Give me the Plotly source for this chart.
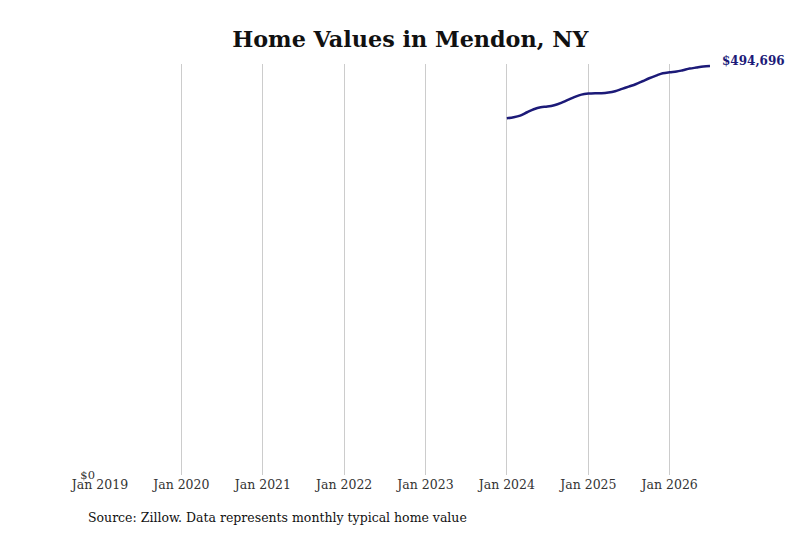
import plotly.graph_objects as go

months = [
    "2024-01-01", "2024-02-01", "2024-03-01", "2024-04-01", "2024-05-01", "2024-06-01",
    "2024-07-01", "2024-08-01", "2024-09-01", "2024-10-01", "2024-11-01", "2024-12-01",
    "2025-01-01", "2025-02-01", "2025-03-01", "2025-04-01", "2025-05-01", "2025-06-01",
    "2025-07-01", "2025-08-01", "2025-09-01", "2025-10-01", "2025-11-01", "2025-12-01",
    "2026-01-01", "2026-02-01", "2026-03-01", "2026-04-01", "2026-05-01", "2026-06-01",
    "2026-07-01",
]
home_values = [
    431390, 432600, 434600, 438650, 442280, 444700,
    445500, 447100, 449930, 453560, 457190, 460010,
    461220, 461630, 461630, 462430, 464050, 466870,
    469690, 472520, 476140, 479770, 483000, 485820,
    487030, 487830, 489450, 491460, 492670, 493880,
    494696,
]
tick_dates = ["2019-01-01", "2020-01-01", "2021-01-01", "2022-01-01",
              "2023-01-01", "2024-01-01", "2025-01-01", "2026-01-01"]
tick_labels = ["Jan 2019", "Jan 2020", "Jan 2021", "Jan 2022",
               "Jan 2023", "Jan 2024", "Jan 2025", "Jan 2026"]

line_color = "#1c1a78"
serif = "DejaVu Serif"

fig = go.Figure()
fig.add_trace(go.Scatter(
    x=months, y=home_values, mode="lines",
    line=dict(color=line_color, width=2.5, shape="spline"),
    hoverinfo="x+y", showlegend=False,
))

# end-of-line value label
fig.add_annotation(
    x=months[-1], y=home_values[-1], text="<b>$%s</b>" % format(home_values[-1], ","),
    showarrow=False, xanchor="left", yanchor="middle", xshift=10, yshift=5,
    font=dict(family=serif, size=12, color=line_color),
)
fig.add_annotation(
    x=0, y=-0.08, xref="paper", yref="paper", xanchor="left", yanchor="top",
    text="Source: Zillow. Data represents monthly typical home value",
    showarrow=False, xshift=-14, font=dict(family=serif, size=12.5, color="#111"),
)

# page body adds 8px, so the figure is a bit smaller than the window
fig.update_layout(
    width=792, height=525,
    margin=dict(l=92, r=90, t=56, b=58),
    paper_bgcolor="white", plot_bgcolor="white",
    title=dict(text="<b>Home Values in Mendon, NY</b>", x=0.508, xanchor="center",
               y=0.941, yanchor="middle", font=dict(family=serif, size=22.3, color="#111")),
    xaxis=dict(
        range=["2019-01-01", "2026-07-01"], tickvals=tick_dates, ticktext=tick_labels,
        showgrid=True, gridcolor="#cccccc", gridwidth=1, zeroline=False, showline=False,
        ticks="", tickfont=dict(family=serif, size=12.5, color="#333"),
    ),
    yaxis=dict(
        range=[0, 497000], tickvals=[0], ticktext=["$0"],
        showgrid=False, zeroline=False, showline=False, ticks="",
        ticklabelstandoff=4,
        tickfont=dict(family=serif, size=11.5, color="#333"),
    ),
)

fig.write_html("out.html")
